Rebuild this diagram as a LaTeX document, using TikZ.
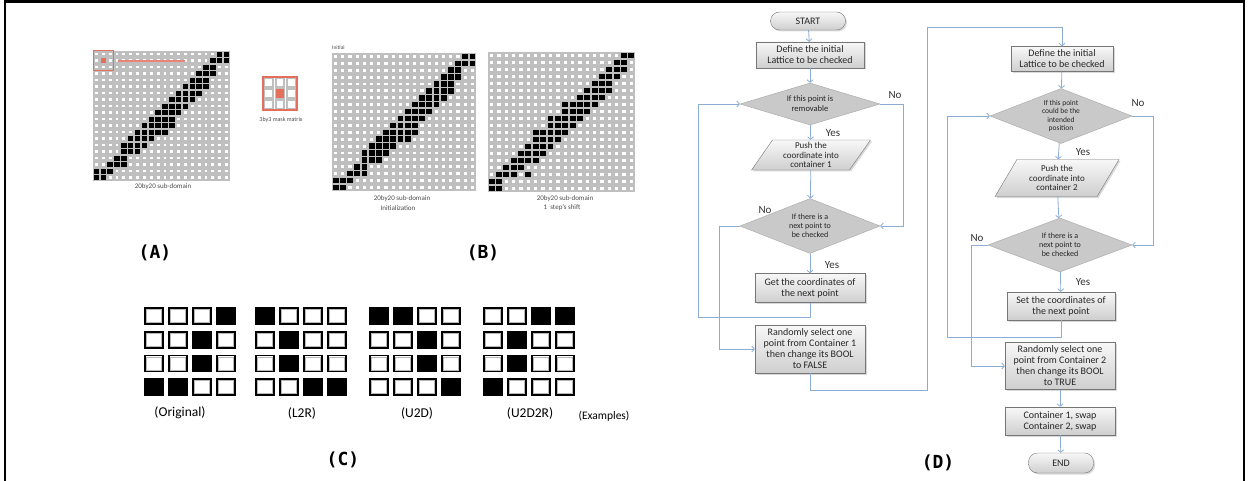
\documentclass[tikz,border=0pt]{standalone}
\usepackage{fontspec}
\setmainfont{Carlito}
\newfontfamily\labelfont{DejaVu Sans Mono}
\usetikzlibrary{positioning,arrows.meta,shapes.geometric,shadows,calc}

\definecolor{flowblue}{RGB}{140,172,212}
\definecolor{maskred}{RGB}{228,112,92}
\definecolor{boxline}{RGB}{118,118,118}

% black cells of the 20x20 lattices, row/first col/last col
\newcommand\bandinit{0/18/19, 1/17/19, 2/16/17, 3/15/17, 4/14/16, 5/13/16,
  6/12/15, 7/11/14, 8/10/13, 9/9/12, 10/8/11, 11/7/11, 12/6/10, 13/5/8,
  14/4/7, 15/4/6, 16/3/4, 17/2/4, 18/0/2, 19/0/1}
\newcommand\bandshift{0/18/19, 1/17/18, 2/16/18, 3/15/17, 4/14/16, 5/13/16,
  6/12/15, 7/10/14, 8/10/13, 9/8/12, 10/8/11, 11/6/10, 12/6/9, 13/5/8,
  14/4/7, 15/3/6, 16/2/4, 17/1/3, 17/5/5, 18/0/1, 19/0/1}

% #1,#2 top left corner, #3,#4 cell pitch, #5 band list
\newcommand\drawlattice[5]{%
  \foreach \c in {0,...,19}
    \foreach \r in {0,...,19}
      \draw[cellring] ({#1+\c*#3+1},{#2+\r*#4+1}) rectangle ({#1+(\c+1)*#3-1},{#2+(\r+1)*#4-1});
  \foreach \r/\a/\b in #5
    \foreach \c in {\a,...,\b}
      \fill[celldot] ({#1+\c*#3+0.7},{#2+\r*#4+0.7}) rectangle ({#1+(\c+1)*#3-0.7},{#2+(\r+1)*#4-0.7});
}

% 4x4 point pattern, #1 left edge, #2 black cells col/row
\newcommand\drawpattern[2]{%
  \foreach \c in {0,...,3}
    \foreach \r in {0,...,3} {
      \draw[ptcell] ({#1+\c*24},{308+\r*23.7}) rectangle ++(18,16);
      \draw[ptinner] ({#1+\c*24+1.6},{308+\r*23.7+1.6}) rectangle ++(14.8,12.8);
    }
  \foreach \c/\r in {#2}
    \fill[ptdot] ({#1+\c*24-0.9},{308+\r*23.7-0.9}) rectangle ++(19.8,17.8);
}

\begin{document}
\begin{tikzpicture}[x=1pt, y=-1pt, >={Straight Barb[length=2.5pt,width=6pt]},
  cellring/.style={draw=gray!50, line width=2pt, fill=white},
  celldot/.style={fill=black},
  ptcell/.style={draw=black, line width=1.8pt, fill=white},
  ptinner/.style={draw=gray!55, line width=0.6pt},
  ptdot/.style={fill=black},
  tiny/.style={font=\fontsize{7}{8}\selectfont, text=gray!60!black, inner sep=0pt},
  panel/.style={font=\labelfont\bfseries\fontsize{18}{20}\selectfont, inner sep=0pt},
  patname/.style={font=\fontsize{13.5}{15}\selectfont, inner sep=0pt},
  box/.style={draw=boxline, top color=gray!6, bottom color=gray!38,
    drop shadow={shadow xshift=1.5pt, shadow yshift=-1.5pt, opacity=.3},
    align=center, inner sep=1pt, font=\fontsize{10}{11}\selectfont, text=black!85},
  term/.style={box, rounded corners=9pt},
  io/.style={box, trapezium, trapezium left angle=60, trapezium right angle=120,
    trapezium stretches=true, font=\fontsize{9}{9.5}\selectfont},
  decision/.style={diamond, draw=gray!70, fill=gray!42, inner sep=0pt},
  dtext/.style={align=center, font=\fontsize{8}{9}\selectfont, text=black!85},
  yesno/.style={font=\fontsize{11}{12}\selectfont, text=black!80, inner sep=0pt},
  flow/.style={draw=flowblue, line width=0.8pt}]
\useasboundingbox (0,0) rectangle (1249,481);

% frame
\draw[line width=2.5pt] (5,1.5) -- (1244,1.5);
\draw[line width=1.2pt] (5,0) -- (5,481) (1244,0) -- (1244,481);

% (A) lattice and mask
\drawlattice{93}{51}{6.85}{6.5}{\bandinit}
\draw[maskred, line width=1pt] (93,51) rectangle (113.55,70.5);
\fill[maskred] (100.85,58.5) rectangle ++(4.85,4.5);
\draw[maskred!85, line width=2.2pt] (118,61) -- (185,61);
\node[tiny] (subA) at (163,187) {20by20 sub-domain};

\foreach \c in {0,1,2}
  \foreach \r in {0,1,2}
    \draw[cellring, line width=2pt] ({263+\c*11.3+1.4},{77+\r*11+1.4}) rectangle ++(8.5,8.2);
\fill[maskred] (275.7,89.4) rectangle ++(8.5,8.2);
\draw[maskred, line width=1.2pt] (263,77) rectangle (297,110);
\node[tiny, font=\fontsize{6}{7}\selectfont] (maskA) at (281,120) {3by3 mask matrix};

\node[panel] (lblA) at (155,253) {(A)};

% (B) initial lattice and shifted lattice
\node[tiny, font=\fontsize{5.5}{6}\selectfont, anchor=west] (initB) at (332,48) {Initial};
\drawlattice{332}{53}{7.2}{6.9}{\bandinit}
\node[tiny] (subB) at (402,199) {20by20 sub-domain};
\node[tiny] (iniB) at (398,208) {Initialization};

\drawlattice{488}{52}{7.35}{7.0}{\bandshift}
\node[tiny] (subC) at (565,199) {20by20 sub-domain};
\node[tiny] (shiftB) at (562,208) {1\ \ step's shift};

\node[panel] (lblB) at (483,253) {(B)};

% (C) flipped patterns
\drawpattern{145}{3/0, 2/1, 2/2, 0/3, 1/3}
\drawpattern{256}{0/0, 1/1, 1/2, 2/3, 3/3}
\drawpattern{370}{0/0, 1/0, 2/1, 2/2, 3/3}
\drawpattern{484}{2/0, 3/0, 1/1, 1/2, 0/3}
\node[patname] (orig) at (180,413) {(Original)};
\node[patname] (ltr)  at (302,413) {(L2R)};
\node[patname] (utd)  at (417,413) {(U2D)};
\node[patname] (utdr) at (530,413) {(U2D2R)};
\node[patname, font=\fontsize{11.5}{13}\selectfont] (expl) at (604,416) {(Examples)};

\node[panel] (lblC) at (343,460) {(C)};

% (D) flowchart, removal pass
\node[term, minimum width=75, minimum height=18] (start) at (808,21) {START};
\node[box, minimum width=108, minimum height=26] (def1) at (810,55) {Define the initial\\Lattice to be checked};
\node[decision, minimum width=140, minimum height=42,
  label={[dtext, font=\fontsize{8.5}{10}\selectfont]center:If this point is\\removable}] (rem) at (810,104) {};
\node[io, minimum width=120, minimum height=30] (push1) at (811,155) {Push the\\coordinate into\\container 1};
\node[decision, minimum width=140, minimum height=55,
  label={[dtext]center:If there is a\\next point to\\be checked}] (next1) at (810,226) {};
\node[box, minimum width=110, minimum height=29] (get1) at (810,288) {Get the coordinates of\\the next point};
\node[box, minimum width=110, minimum height=48] (rand1) at (810,349) {Randomly select one\\point from Container 1\\then change its BOOL\\to FALSE};
\node[yesno] (no1)  at (895,95)  {No};
\node[yesno] (yes1) at (833,133) {Yes};
\node[yesno] (no2)  at (765,210) {No};
\node[yesno] (yes2) at (832,265) {Yes};

\coordinate (loopL) at (698,104);
\coordinate (jumpA) at (927,390);
\coordinate (jumpB) at (927,27);

\draw[flow,->] (start) -- (def1);
\draw[flow,->] (def1) -- (rem);
\draw[flow,->] (rem) -- (push1);
\draw[flow,->] (push1) -- (next1);
\draw[flow,->] (next1) -- (get1);
\draw[flow,->] (rem.east) -- ++(23,0) |- (next1.east);
\draw[flow,->] (get1.south) -- ++(0,15) -| (loopL) -- (rem.west);
\draw[flow,->] (next1.west) -- ++(-20,0) |- (rand1.west);

% (D) flowchart, adding pass
\node[box, minimum width=102, minimum height=25] (def2) at (1062,59) {Define the initial\\Lattice to be checked};
\node[decision, minimum width=142, minimum height=55,
  label={[dtext, font=\fontsize{7.5}{8.5}\selectfont]center:If this point\\could be the\\intended\\position}] (could) at (1061,116) {};
\node[io, minimum width=125, minimum height=37] (push2) at (1057,178) {Push the\\coordinate into\\container 2};
\node[decision, minimum width=144, minimum height=54,
  label={[dtext]center:If there is a\\next point to\\be checked}] (next2) at (1060,245) {};
\node[box, minimum width=108, minimum height=28] (get2) at (1061,306) {Set the coordinates of\\the next point};
\node[box, minimum width=110, minimum height=47] (rand2) at (1060,366) {Randomly select one\\point from Container 2\\then change its BOOL\\to TRUE};
\node[box, minimum width=110, minimum height=28] (swap) at (1060,421) {Container 1, swap\\Container 2, swap};
\node[term, minimum width=65, minimum height=20] (end) at (1061,463) {END};
\node[yesno] (no3)  at (1138,103) {No};
\node[yesno] (yes3) at (1083,152) {Yes};
\node[yesno] (no4)  at (977,238)  {No};
\node[yesno] (yes4) at (1083,282) {Yes};

\coordinate (loopR) at (947,116);

\draw[flow,->] (rand1.south) |- (jumpA) -- (jumpB) -| (def2.north);
\draw[flow,->] (def2) -- (could);
\draw[flow,->] (could) -- (push2);
\draw[flow,->] (push2) -- (next2);
\draw[flow,->] (next2) -- (get2);
\draw[flow,->] (could.east) -- ++(21,0) |- (next2.east);
\draw[flow,->] (get2.south) -- ++(0,17) -| (loopR) -- (could.west);
\draw[flow,->] (next2.west) -- ++(-16,0) |- (rand2.west);
\draw[flow,->] (rand2) -- (swap);
\draw[flow,->] (swap) -- (end);

\node[panel] (lblD) at (938,463) {(D)};
\end{tikzpicture}
\end{document}
